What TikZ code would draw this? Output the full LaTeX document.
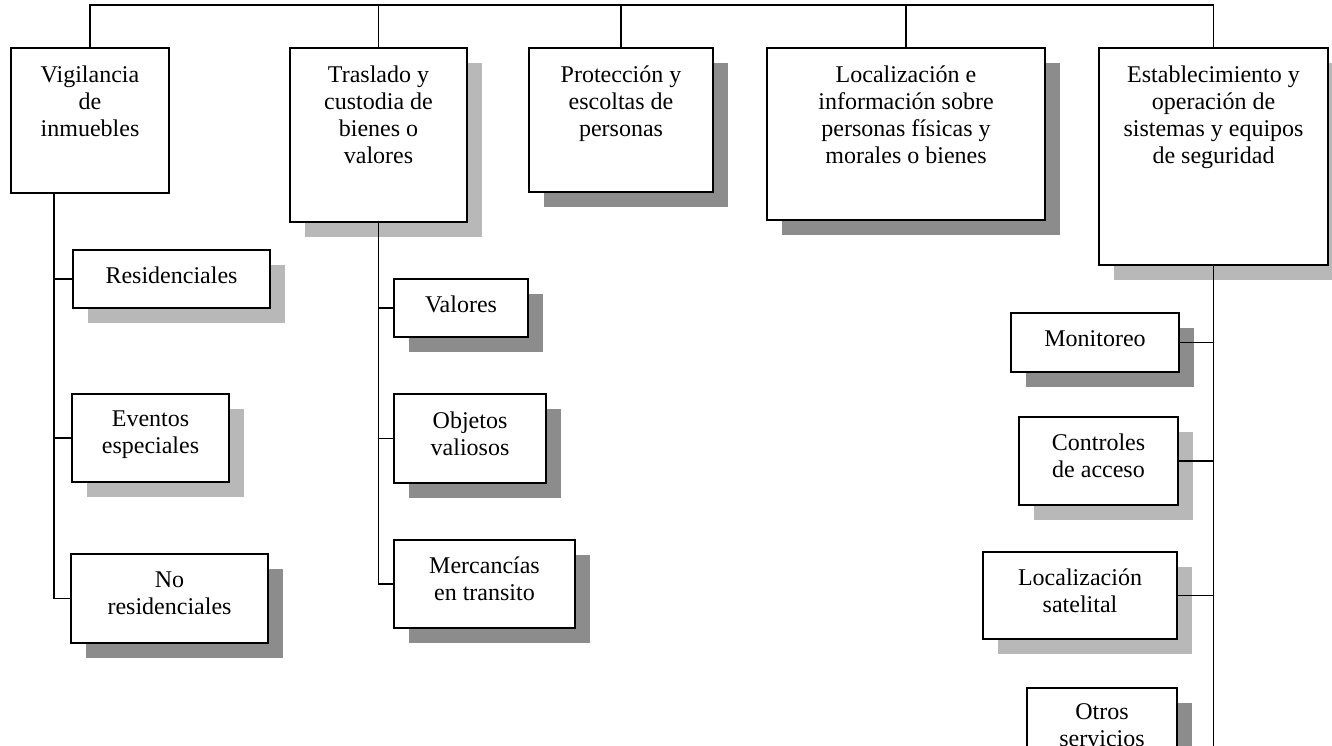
\documentclass[tikz,border=0pt]{standalone}
\usepackage{fontspec}
\setmainfont{Liberation Serif}
\usetikzlibrary{shadows}
\begin{document}
\begin{tikzpicture}[x=1pt,y=-1pt,
  box/.style={draw, line width=1.6pt, fill=white, inner sep=0pt, rectangle},
  shd/.style={drop shadow={shadow xshift=15pt, shadow yshift=-15pt, fill=black!45, opacity=1}},
  shl/.style={drop shadow={shadow xshift=15pt, shadow yshift=-15pt, fill=black!28, opacity=1}},
  lbl/.style={inner sep=0pt, align=center, font=\fontsize{24}{27}\selectfont},
  conn/.style={line width=1.6pt},
]
\useasboundingbox (0,0) rectangle (1332,746);
\clip (0,0) rectangle (1332,746);

% top level boxes
\node[box, minimum width=158pt, minimum height=145pt] (b1) at (90,120.5) {};
\node[box, shl, minimum width=177pt, minimum height=174pt] (b2) at (378.5,135) {};
\node[box, shd, minimum width=184pt, minimum height=144pt] (b3) at (621,120) {};
\node[box, shd, minimum width=278pt, minimum height=172pt] (b4) at (906,134) {};
\node[box, shl, minimum width=229pt, minimum height=217pt] (b5) at (1213.5,156.5) {};

\node[lbl, anchor=north] (t1) at ([yshift=-18.5pt]b1.north) {Vigilancia\\de\\inmuebles};
\node[lbl, anchor=north] (t2) at ([yshift=-18.5pt]b2.north) {Traslado y\\custodia de\\bienes o\\valores};
\node[lbl, anchor=north] (t3) at ([yshift=-18.5pt]b3.north) {Protección y\\escoltas de\\personas};
\node[lbl, anchor=north] (t4) at ([yshift=-18.5pt]b4.north) {Localización e\\información sobre\\personas físicas y\\morales o bienes};
\node[lbl, anchor=north] (t5) at ([yshift=-18.5pt]b5.north) {Establecimiento y\\operación de\\sistemas y equipos\\de seguridad};

% left column
\node[box, shl, minimum width=197pt, minimum height=58pt] (r1) at (171.5,279) {};
\node[box, shl, minimum width=157pt, minimum height=88pt] (r2) at (150.5,438) {};
\node[box, shd, minimum width=197pt, minimum height=89pt] (r3) at (169.5,598.5) {};
\node[lbl] (r1t) at ([yshift=4pt]r1.center) {Residenciales};
\node[lbl] (r2t) at ([yshift=3pt]r2.center) {Eventos\\especiales};
\node[lbl] (r3t) at ([yshift=5pt]r3.center) {No\\residenciales};

% middle column
\node[box, shd, minimum width=134pt, minimum height=58pt] (m1) at (461,308) {};
\node[box, shd, minimum width=152pt, minimum height=89pt] (m2) at (470,438.5) {};
\node[box, shd, minimum width=181pt, minimum height=88pt] (m3) at (484.5,584) {};
\node[lbl] (m1t) at ([yshift=4pt]m1.center) {Valores};
\node[lbl] (m2t) at ([yshift=5pt]m2.center) {Objetos\\valiosos};
\node[lbl] (m3t) at ([yshift=5pt]m3.center) {Mercancías\\en transito};

% right column
\node[box, shd, minimum width=168pt, minimum height=59pt] (s1) at (1095,342.5) {};
\node[box, shl, minimum width=159pt, minimum height=88pt] (s2) at (1098.5,461) {};
\node[box, shl, minimum width=194pt, minimum height=87pt] (s3) at (1080,595.5) {};
\node[box, shd, minimum width=150pt, minimum height=100pt] (s4) at (1102,738) {};
\node[lbl] (s1t) at ([yshift=4pt]s1.center) {Monitoreo};
\node[lbl] (s2t) at ([yshift=5pt]s2.center) {Controles\\de acceso};
\node[lbl] (s3t) at ([yshift=5pt]s3.center) {Localización\\satelital};
\node[lbl, anchor=north] (s4t) at ([yshift=-16pt]s4.north) {Otros\\servicios};

% connectors
\coordinate (top) at (0,5);
\draw[conn] (b1.north) -- (b1.north |- top) -- (b5.north |- top) -- (b5.north);
\foreach \n in {b2,b3,b4} \draw[conn] (\n.north) -- (\n.north |- top);

\coordinate (v1) at ([xshift=-36pt]b1.south);
\draw[conn] (v1) |- (r3.west);
\draw[conn] (v1 |- r1.west) -- (r1.west);
\draw[conn] (v1 |- r2.west) -- (r2.west);

\draw[conn] (b2.south) |- (m3.west);
\draw[conn] (b2.south |- m1.west) -- (m1.west);
\draw[conn] (b2.south |- m2.west) -- (m2.west);

\coordinate (vend) at (b5.south |- 0,770);
\draw[conn] (b5.south) -- (vend);
\draw[conn] (s1.east) -- (s1.east -| b5.south);
\draw[conn] (s2.east) -- (s2.east -| b5.south);
\draw[conn] (s3.east) -- (s3.east -| b5.south);
\end{tikzpicture}
\end{document}
